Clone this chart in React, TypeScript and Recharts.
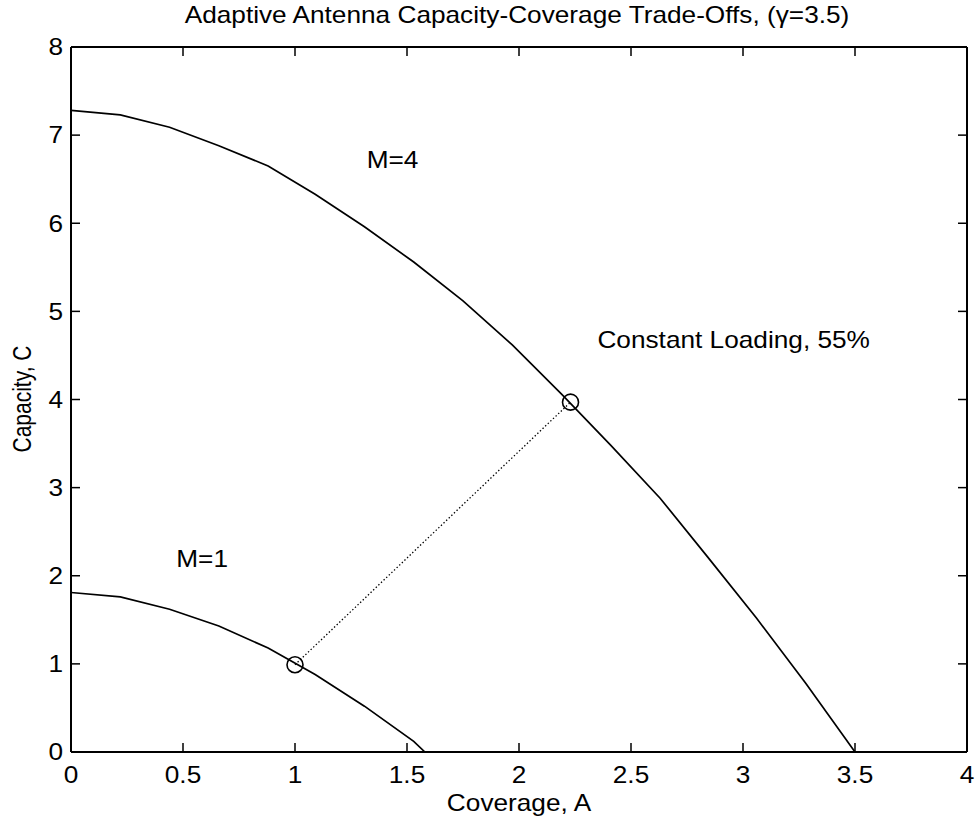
import React from "react";
import { ScatterChart, Scatter, XAxis, YAxis } from "recharts";

// curve for M=4 antenna elements
const coverageM4 = [0, 0.22, 0.44, 0.66, 0.88, 1.09, 1.31, 1.53, 1.75, 1.97, 2.19, 2.41, 2.63, 2.84, 3.06, 3.28, 3.5];
const capacityM4 = [7.28, 7.23, 7.09, 6.88, 6.65, 6.33, 5.96, 5.56, 5.12, 4.62, 4.06, 3.48, 2.88, 2.22, 1.52, 0.78, 0];

// curve for M=1
const coverageM1 = [0, 0.22, 0.44, 0.66, 0.88, 1.09, 1.31, 1.53, 1.58];
const capacityM1 = [1.81, 1.76, 1.62, 1.43, 1.18, 0.88, 0.52, 0.12, 0];

// constant loading (55%) points
const loadingCoverage = [1.0, 2.23];
const loadingCapacity = [0.99, 3.97];

const xTicks = [0, 0.5, 1, 1.5, 2, 2.5, 3, 3.5, 4];
const yTicks = [0, 1, 2, 3, 4, 5, 6, 7, 8];

// text annotations (left / baseline in data units)
const noteText = ["M=4", "M=1", "Constant Loading, 55%"];
const noteCoverage = [1.32, 0.47, 2.35];
const noteCapacity = [6.63, 2.1, 4.58];

const toPoints = (xs: number[], ys: number[]) => xs.map((a, i) => ({ a, c: ys[i] }));

const m4 = toPoints(coverageM4, capacityM4);
const m1 = toPoints(coverageM1, capacityM1);
const loading = toPoints(loadingCoverage, loadingCapacity);
const notes = noteText.map((label, i) => ({ a: noteCoverage[i], c: noteCapacity[i], label }));

const FONT = "'Liberation Sans', Arial, Helvetica, sans-serif";
const FS = 23;
const SX = 1.14;
const TICK = 9;
const AX = { stroke: "#000", strokeWidth: 2 };

const BottomTick = ({ x, y, payload }: any) => (
  <g>
    <line x1={x} y1={y} x2={x} y2={y - TICK} stroke="#000" strokeWidth={1.5} />
    <text
      transform={`translate(${x},${y + 31}) scale(${SX},1)`}
      textAnchor="middle"
      fontSize={FS}
      fontFamily={FONT}
      fill="#000"
    >
      {payload.value}
    </text>
  </g>
);

const LeftTick = ({ x, y, payload }: any) => (
  <g>
    <line x1={x} y1={y} x2={x + TICK} y2={y} stroke="#000" strokeWidth={1.5} />
    <text
      transform={`translate(${x - 8},${y + 8.3}) scale(${SX},1)`}
      textAnchor="end"
      fontSize={FS}
      fontFamily={FONT}
      fill="#000"
    >
      {payload.value}
    </text>
  </g>
);

const TopTick = ({ x, y }: any) => (
  <line x1={x} y1={y} x2={x} y2={y + TICK} stroke="#000" strokeWidth={1.5} />
);

const RightTick = ({ x, y }: any) => (
  <line x1={x} y1={y} x2={x - TICK} y2={y} stroke="#000" strokeWidth={1.5} />
);

const Blank = () => <g />;

const Ring = ({ cx, cy }: any) => (
  <circle cx={cx} cy={cy} r={8} fill="none" stroke="#000" strokeWidth={1.6} />
);

const Note = ({ cx, cy, payload }: any) => (
  <text
    transform={`translate(${cx},${cy}) scale(${SX},1)`}
    fontSize={FS}
    fontFamily={FONT}
    fill="#000"
  >
    {payload.label}
  </text>
);

export default function App() {
  return (
    <div style={{ position: "relative", width: 979, height: 831, background: "#fff" }}>
      <style>{"body{margin:0}"}</style>
      <ScatterChart width={979} height={831} margin={{ top: 46, right: 11, bottom: 29, left: 0 }}>
        <XAxis
          xAxisId="b"
          type="number"
          dataKey="a"
          domain={[0, 4]}
          ticks={xTicks}
          interval={0}
          height={50}
          tickSize={0}
          tickMargin={0}
          tick={<BottomTick />}
          axisLine={AX}
          allowDataOverflow
        />
        <XAxis
          xAxisId="t"
          orientation="top"
          type="number"
          dataKey="a"
          domain={[0, 4]}
          ticks={xTicks}
          interval={0}
          height={1}
          tickSize={0}
          tickMargin={0}
          tick={<TopTick />}
          axisLine={AX}
          allowDataOverflow
        />
        <YAxis
          yAxisId="l"
          type="number"
          dataKey="c"
          domain={[0, 8]}
          ticks={yTicks}
          interval={0}
          width={71}
          tickSize={0}
          tickMargin={0}
          tick={<LeftTick />}
          axisLine={AX}
          allowDataOverflow
        />
        <YAxis
          yAxisId="r"
          orientation="right"
          type="number"
          dataKey="c"
          domain={[0, 8]}
          ticks={yTicks}
          interval={0}
          width={1}
          tickSize={0}
          tickMargin={0}
          tick={<RightTick />}
          axisLine={AX}
          allowDataOverflow
        />
        <Scatter
          xAxisId="b"
          yAxisId="l"
          data={loading}
          line={{ stroke: "#000", strokeWidth: 1.3, strokeDasharray: "1.4 2.2" }}
          shape={Blank}
          isAnimationActive={false}
        />
        <Scatter
          xAxisId="b"
          yAxisId="l"
          data={m4}
          line={{ stroke: "#000", strokeWidth: 1.7 }}
          shape={Blank}
          isAnimationActive={false}
        />
        <Scatter
          xAxisId="b"
          yAxisId="l"
          data={m1}
          line={{ stroke: "#000", strokeWidth: 1.7 }}
          shape={Blank}
          isAnimationActive={false}
        />
        <Scatter xAxisId="b" yAxisId="l" data={loading} shape={Ring} isAnimationActive={false} />
        <Scatter xAxisId="t" yAxisId="r" data={notes} shape={Note} isAnimationActive={false} />
      </ScatterChart>
      <svg
        width={979}
        height={831}
        style={{ position: "absolute", left: 0, top: 0, pointerEvents: "none" }}
        fontFamily={FONT}
        fill="#000"
      >
        <text transform={`translate(517,23) scale(${SX},1)`} textAnchor="middle" fontSize={FS}>
          Adaptive Antenna Capacity-Coverage Trade-Offs, (γ=3.5)
        </text>
        <text transform={`translate(519,811) scale(${SX},1)`} textAnchor="middle" fontSize={FS}>
          Coverage, A
        </text>
        <text transform="translate(31,399) scale(1.24,1) rotate(-90)" textAnchor="middle" fontSize={21}>
          Capacity, C
        </text>
      </svg>
    </div>
  );
}
